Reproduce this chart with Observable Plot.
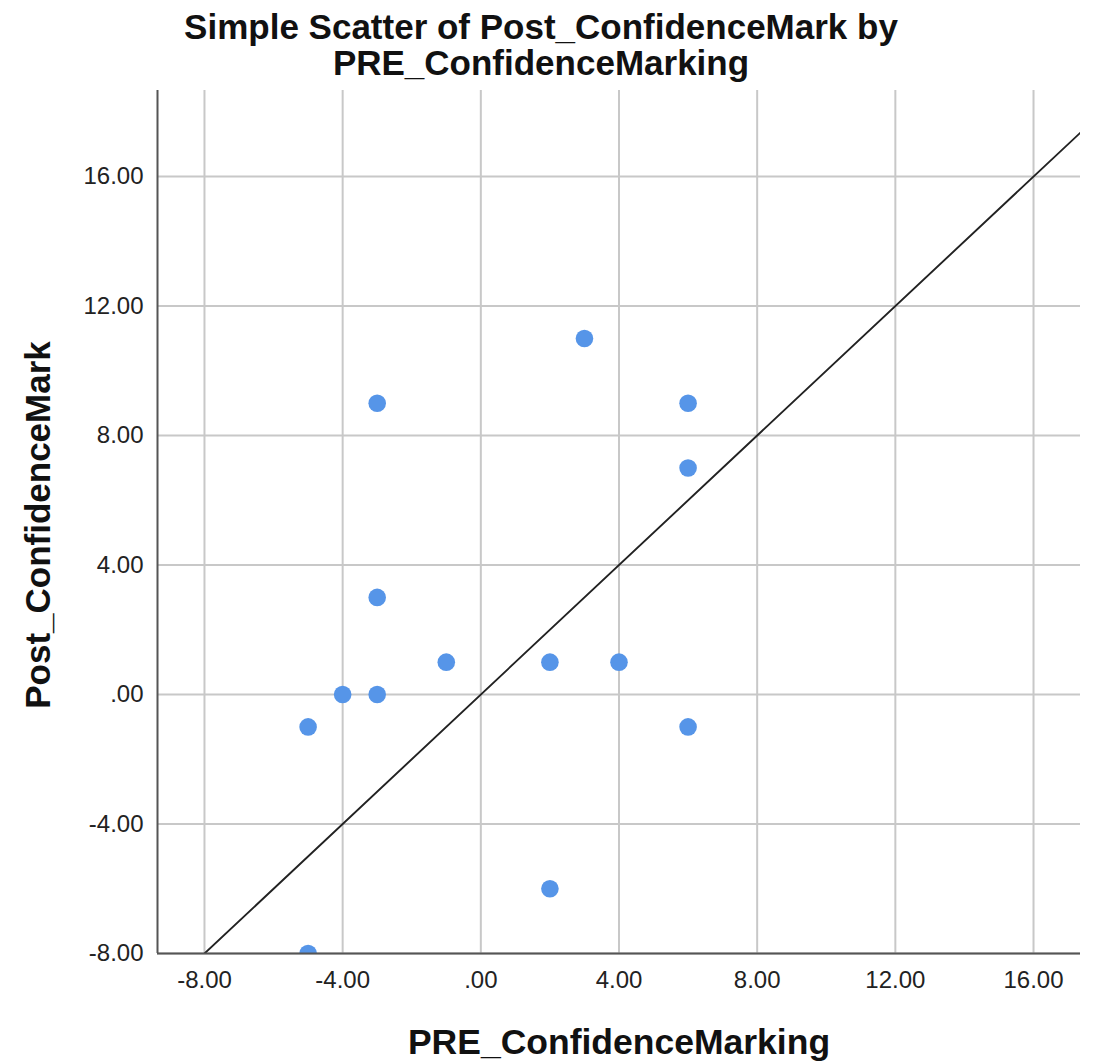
<!DOCTYPE html>
<html>
<head>
<meta charset="utf-8">
<script src="https://cdn.jsdelivr.net/npm/d3@7"></script>
<script src="https://cdn.jsdelivr.net/npm/@observablehq/plot@0.6"></script>
<style>
  body { margin: 0; background: #fff; font-family: "Liberation Sans", Arial, sans-serif; }
  #title { width: 1082px; height: 88px; box-sizing: border-box; padding-top: 9px; text-align: center;
           font-weight: bold; font-size: 35px; color: #111; }
  #title div { height: 36px; line-height: 36px; white-space: nowrap; }
  svg { display: block; }
</style>
</head>
<body>
<div id="title"><div>Simple Scatter of Post_ConfidenceMark by</div><div>PRE_ConfidenceMarking</div></div>
<div id="chart"></div>
<script>
const preConfidence = [-5, -5, -4, -3, -3, -3, -1, 2, 2, 3, 4, 6, 6, 6];
const postConfidence = [-8, -1, 0, 0, 3, 9, 1, 1, -6, 11, 1, 9, 7, -1];
const tickValues = [-8, -4, 0, 4, 8, 12, 16];
const xDomain = [-9.36, 17.36];
const yDomain = [-8, 18.66];
const diagonal = [-9.36, 17.36];

const points = preConfidence.map((x, i) => ({x, y: postConfidence[i]}));
const fmt = d => d === 0 ? ".00" : d.toFixed(2);

const chart = Plot.plot({
  width: 1094,
  height: 976,
  marginTop: 2,
  marginLeft: 157,
  marginRight: 14,
  marginBottom: 111,
  style: { fontFamily: "'Liberation Sans', Arial, sans-serif", fontSize: "24px", color: "#222", background: "#fff" },
  x: { domain: xDomain, ticks: tickValues, tickFormat: fmt, label: null },
  y: { domain: yDomain, ticks: tickValues, tickFormat: fmt, label: null },
  marks: [
    Plot.gridX(tickValues, { stroke: "#c8c8c8", strokeOpacity: 1, strokeWidth: 2 }),
    Plot.gridY(tickValues, { stroke: "#c8c8c8", strokeOpacity: 1, strokeWidth: 2 }),
    Plot.axisX(tickValues, { tickSize: 0, tickPadding: 17, tickFormat: fmt, fontSize: 24, fill: "#222", label: null }),
    Plot.axisY(tickValues, { tickSize: 0, tickPadding: 14, tickFormat: fmt, fontSize: 24, fill: "#222", label: null }),
    Plot.line(diagonal, { x: d => d, y: d => d, stroke: "#222", strokeWidth: 1.9, clip: true }),
    Plot.dot(points, { x: "x", y: "y", r: 8.8, fill: "#5695e8", stroke: "none", clip: true }),
    Plot.ruleX([xDomain[0]], { stroke: "#555", strokeWidth: 2 }),
    Plot.ruleY([yDomain[0]], { stroke: "#555", strokeWidth: 2 }),
    Plot.text(["PRE_ConfidenceMarking"], { frameAnchor: "bottom", textAnchor: "middle", dy: 100, fontSize: 35.5, fontWeight: "bold", fill: "#111" }),
    Plot.text(["Post_ConfidenceMark"], { frameAnchor: "left", textAnchor: "middle", dx: -119, dy: 3, rotate: -90, fontSize: 35, fontWeight: "bold", fill: "#111" })
  ]
});
document.getElementById("chart").appendChild(chart);
</script>
</body>
</html>
